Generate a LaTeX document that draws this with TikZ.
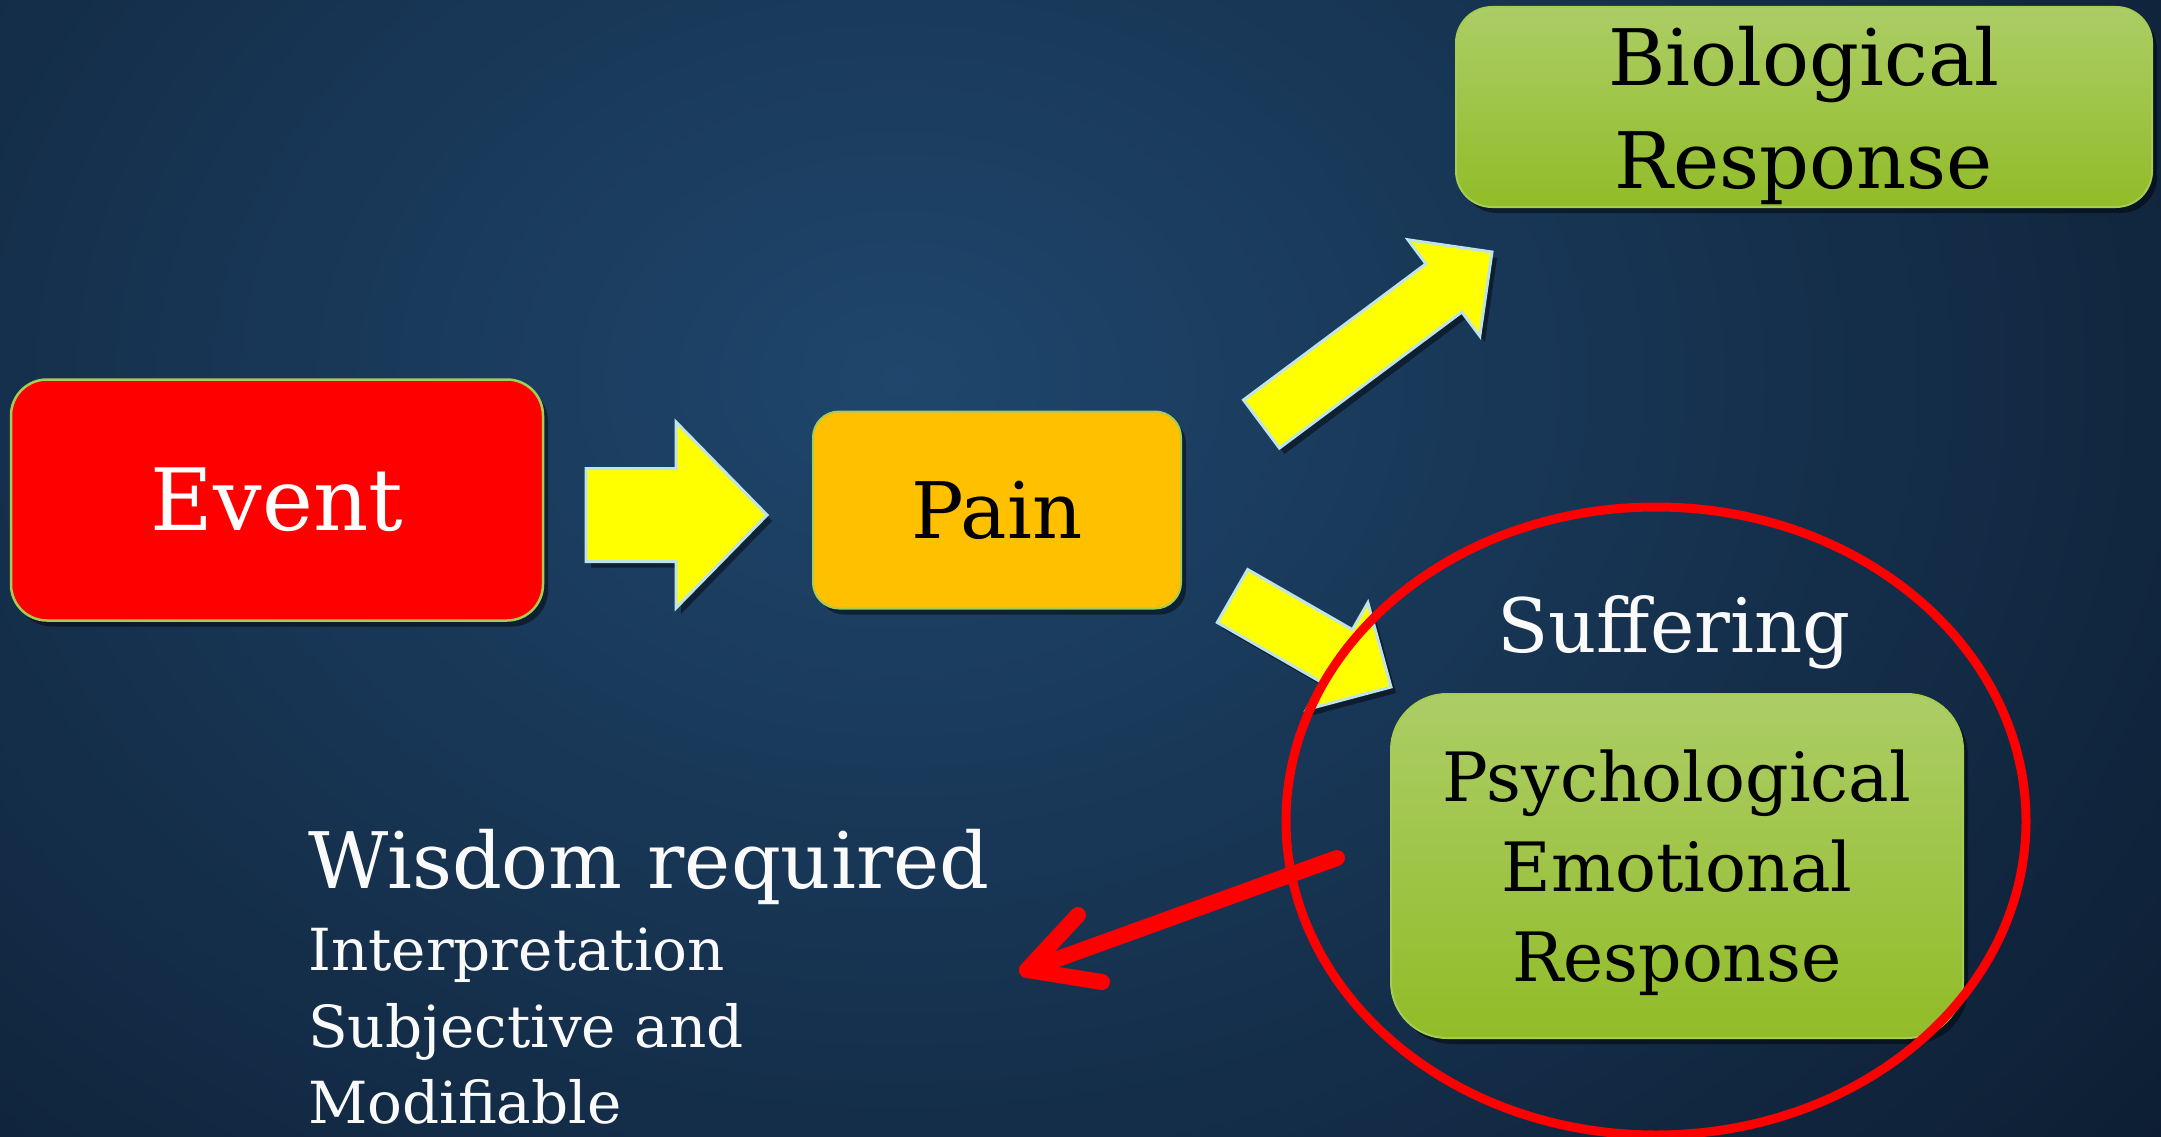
\documentclass[tikz,border=0pt]{standalone}
\usepackage{fontspec}
\setmainfont{DejaVu Serif}
\usetikzlibrary{calc,shadows}
\definecolor{bgin}{RGB}{31,70,108}
\definecolor{bgout}{RGB}{11,26,45}
\definecolor{yel}{RGB}{255,255,0}
\definecolor{yedge}{RGB}{190,228,230}
\definecolor{gtop}{RGB}{172,205,102}
\definecolor{gbot}{RGB}{146,188,40}
\definecolor{gedge}{RGB}{165,205,85}
\definecolor{painfill}{RGB}{255,192,0}
\definecolor{redfill}{RGB}{255,0,0}
\definecolor{offwhite}{RGB}{250,250,250}
\pgfdeclareradialshading{bgshade}{\pgfpoint{0bp}{0bp}}{color(0bp)=(bgin); color(34bp)=(bgout); color(50bp)=(bgout)}
\newcommand\setfs[2]{\fontsize{#1}{#2}\selectfont}
\newcommand\blockarrow[5]{%
  \coordinate (bh) at ($(#2)!#5!(#1)$);
  \filldraw[yarrow] ($(#1)!#3!90:(#2)$) -- ($(bh)!#3!-90:(#1)$) -- ($(bh)!#4!-90:(#1)$) -- (#2)
    -- ($(bh)!#4!90:(#1)$) -- ($(bh)!#3!90:(#1)$) -- ($(#1)!#3!-90:(#2)$) -- cycle;}
\tikzset{
  shadowed/.style={drop shadow={shadow xshift=5pt, shadow yshift=-6pt, opacity=0.45, fill=black}},
  redbox/.style={shadowed, draw=gedge, fill=redfill, line width=2.5pt, rounded corners=36pt, inner sep=0pt, text=white},
  painbox/.style={shadowed, draw=gedge, fill=painfill, line width=2pt, rounded corners=26pt, inner sep=0pt, text=black},
  greenbox/.style={shadowed, draw=gedge, top color=gtop, bottom color=gbot, line width=2pt, inner sep=0pt, align=center, text=black, text depth=0pt},
  yarrow/.style={shadowed, fill=yel, draw=yedge, line width=3pt, line join=miter},
  redline/.style={draw=redfill, line width=16pt, line cap=round, line join=round},
  wtext/.style={text=offwhite, inner sep=0pt}
}
\begin{document}
\begin{tikzpicture}[x=1pt,y=-1pt]
\useasboundingbox (0,0) rectangle (2161,1137);
\begin{scope}
  \clip (0,0) rectangle (2161,1137);
  \shade[shading=bgshade] (-400,-620) rectangle (2200,1380);
\end{scope}

% boxes
\node[redbox, minimum width=532pt, minimum height=241pt, font=\setfs{86}{90}] (event) at (277,500) {Event};
\node[painbox, minimum width=368pt, minimum height=197pt, font=\setfs{78}{82}] (pain) at (997,510) {Pain};
\node[greenbox, rounded corners=36pt, minimum width=696pt, minimum height=200pt, font=\setfs{78}{103}] (bio) at (1804,107) {Biological\\Response};
\node[greenbox, rounded corners=56pt, minimum width=572pt, minimum height=344pt, font=\setfs{68}{90}] (psych) at (1677,866) {Psychological\\Emotional\\Response};

% yellow block arrows
\coordinate (y1a) at (586,515);
\coordinate (y1b) at (767,515);
\blockarrow{y1a}{y1b}{46.5pt}{93pt}{91pt}
\coordinate (y2a) at (1261.5,424);
\coordinate (y2b) at (1492,252);
\blockarrow{y2a}{y2b}{30pt}{60pt}{60pt}
\coordinate (y3a) at (1232.5,596);
\coordinate (y3b) at (1391,687);
\blockarrow{y3a}{y3b}{30.5pt}{61.5pt}{62pt}

% red ellipse
\coordinate (ec) at (1656,821);
\draw[redfill, line width=9pt] (ec) ellipse [x radius=370, y radius=314];

% texts
\node[wtext, anchor=base, font=\setfs{75}{80}] (suff) at (1674,652) {Suffering};
\node[wtext, anchor=base west, font=\setfs{78}{80}] (wis) at (308,888) {Wisdom required};
\node[wtext, anchor=base west, font=\setfs{58}{60}] (interp) at (308,970) {Interpretation};
\node[wtext, anchor=base west, font=\setfs{58}{60}] (subj) at (308,1047) {Subjective and};
\node[wtext, anchor=base west, font=\setfs{58}{60}] (modif) at (308,1123) {Modifiable};

% red arrow
\coordinate (r0) at (1337,858);
\coordinate (r1) at (1027,970);
\coordinate (rb1) at (1078,915);
\coordinate (rb2) at (1102,982);
\draw[redline] (r0) -- (r1);
\draw[redline] (rb1) -- (r1) -- (rb2);
\end{tikzpicture}
\end{document}
